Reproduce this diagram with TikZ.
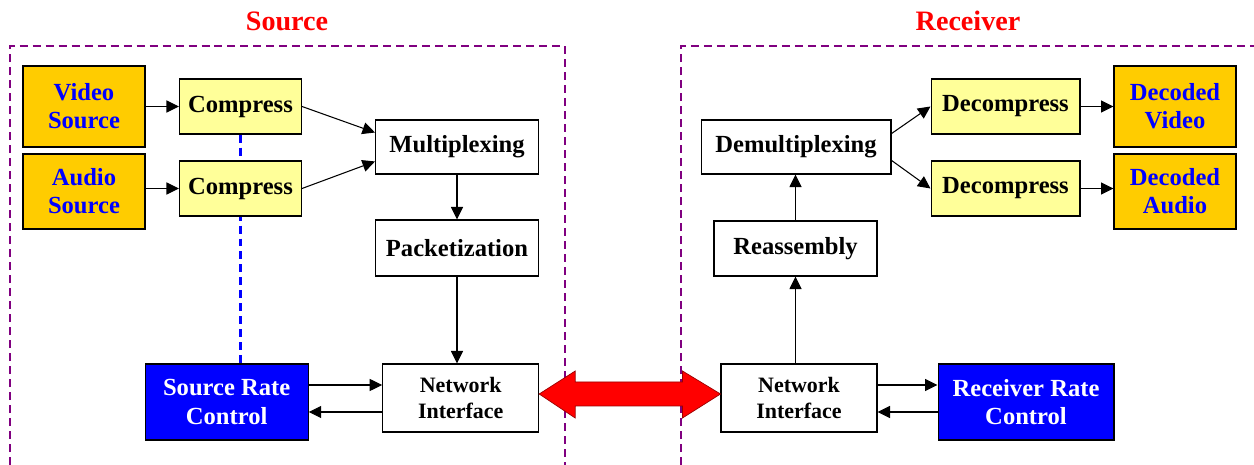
\documentclass[tikz,border=0pt]{standalone}
\usepackage{fontspec}
\setmainfont{Liberation Serif}
\usetikzlibrary{arrows.meta, backgrounds, calc}
\definecolor{gold}{HTML}{FFCC00}
\definecolor{paleyellow}{HTML}{FFFF99}
\definecolor{framepurple}{HTML}{800080}

\begin{document}
\begin{tikzpicture}[x=0.02cm, y=-0.02cm,
  box/.style={draw=black, line width=0.6pt, fill=white, align=center, inner sep=1pt, font=\bfseries\fontsize{14}{16}\selectfont},
  media/.style={box, fill=gold, text=blue, minimum width=2.44cm},
  codec/.style={box, fill=paleyellow, minimum height=1.1cm},
  netbox/.style={box, minimum width=3.12cm, minimum height=1.36cm, font=\bfseries\fontsize{12.5}{14.5}\selectfont},
  rate/.style={box, fill=blue, text=white, minimum height=1.52cm},
  title/.style={font=\bfseries\fontsize{16}{18}\selectfont, text=red},
  frame/.style={draw=framepurple, line width=1.2pt, dash pattern=on 0.16cm off 0.1cm},
  link/.style={-{Triangle[length=0.25cm, width=0.24cm]}, line width=0.6pt}]
  \useasboundingbox (0,0) rectangle (1254,465);

  \node[title] at (287, 21) (srctitle) {Source};
  \node[title] at (968, 21) (rcvtitle) {Receiver};

  % source side
  \node[media, minimum height=1.62cm] at (84, 106.5) (vsrc) {Video\\Source};
  \node[media, minimum height=1.5cm] at (84, 191.5) (asrc) {Audio\\Source};
  \node[codec, minimum width=2.44cm] at (240.5, 106.5) (comp1) {Compress};
  \node[codec, minimum width=2.44cm] at (240.5, 188.5) (comp2) {Compress};
  \node[box, minimum width=3.26cm, minimum height=1.08cm] at (457, 147) (mux) {Multiplexing};
  \node[box, minimum width=3.26cm, minimum height=1.12cm] at (457, 248) (pkt) {Packetization};
  \node[netbox] at (460.7, 398) (nil) {Network\\Interface};
  \node[rate, minimum width=3.26cm] at (226.7, 402) (src) {Source Rate\\Control};

  % receiver side
  \node[box, minimum width=3.8cm, minimum height=1.08cm] at (796, 147) (demux) {Demultiplexing};
  \node[box, minimum width=3.26cm, minimum height=1.1cm] at (795.5, 248.5) (reasm) {Reassembly};
  \node[codec, minimum width=2.98cm] at (1005.5, 106.5) (dec1) {Decompress};
  \node[codec, minimum width=2.98cm] at (1005.5, 188.5) (dec2) {Decompress};
  \node[media, minimum height=1.62cm] at (1175, 106.5) (dvid) {Decoded\\Video};
  \node[media, minimum height=1.5cm] at (1175, 191.5) (daud) {Decoded\\Audio};
  \node[netbox] at (799, 398) (nir) {Network\\Interface};
  \node[rate, minimum width=3.52cm] at (1026, 402) (rrc) {Receiver Rate\\Control};

  \begin{scope}[on background layer]
    \draw[frame] (9.6, 465) -- (9.6, 46) -- (565, 46) -- (565, 465);
    \draw[frame] (681, 465) -- (681, 46) -- (1260, 46);
    \draw[blue, line width=1.2pt, dash pattern=on 0.16cm off 0.1cm] (comp1.south) -- (comp1.south |- src.north);
  \end{scope}

  \draw[link] (vsrc) -- (comp1);
  \draw[link] (asrc.east |- comp2.west) -- (comp2);
  \draw[link] (comp1.east) -- (mux.170);
  \draw[link] (comp2.east) -- (mux.190);
  \draw[link] (mux) -- (pkt);
  \draw[link] (pkt.south) -- (pkt.south |- nil.north);
  \draw[link] (src.east |- 0,385) -- (nil.west |- 0,385);
  \draw[link] (nil.west |- 0,412) -- (src.east |- 0,412);

  \draw[link] (nir.north -| reasm) -- (reasm.south);
  \draw[link] (reasm.north) -- (reasm.north |- demux.south);
  \draw[link] (demux.8) -- (dec1.west);
  \draw[link] (demux.-8) -- (dec2.west);
  \draw[link] (dec1) -- (dvid);
  \draw[link] (dec2.east) -- (dec2.east -| daud.west);
  \draw[link] (nir.east |- 0,385) -- (rrc.west |- 0,385);
  \draw[link] (rrc.west |- 0,412) -- (nir.east |- 0,412);

  % link between the two interfaces
  \coordinate (tipl) at ([yshift=0.08cm]nil.east);
  \coordinate (tipr) at ([yshift=0.08cm]nir.west);
  \filldraw[fill=red, draw=red!60!black, line width=0.4pt]
    (tipl) -- ++(36,-23) -- ++(0,11) -- ($(tipr)+(-38,-12)$) -- ++(0,-11) -- (tipr)
    -- ++(-38,24) -- ++(0,-12) -- ($(tipl)+(36,12)$) -- ++(0,12) -- cycle;
\end{tikzpicture}
\end{document}
